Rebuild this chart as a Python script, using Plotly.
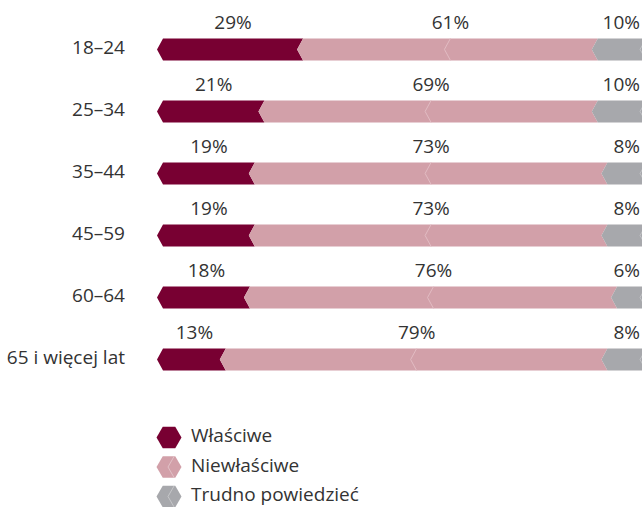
import plotly.graph_objects as go

# ---------------- data ----------------
categories = ["18–24", "25–34", "35–44", "45–59", "60–64", "65 i więcej lat"]
wlasciwe = [29, 21, 19, 19, 18, 13]
niewlasciwe = [61, 69, 73, 73, 76, 79]
trudno = [10, 10, 8, 8, 6, 8]
series_names = ["Właściwe", "Niewłaściwe", "Trudno powiedzieć"]
series_values = [wlasciwe, niewlasciwe, trudno]

# ---------------- style ----------------
colors = ["#780032", "#d2a0a9", "#a7a8ac"]
faint_colors = [None, "#e2bcc3", "#c3c4c7"]
text_color = "#333333"
FONT = "Open Sans"
FS = 19

W, H = 642, 507
X0_PX, PX_PER_UNIT = 157.0, 4.831          # x=0 at pixel 157
Y0_PX, ROW_PX = 49.4, 62.03                # row 0 centre, row spacing
x_min, x_max = -X0_PX / PX_PER_UNIT, (W - X0_PX) / PX_PER_UNIT
y_min, y_max = -Y0_PX / ROW_PX, (H - Y0_PX) / ROW_PX


def px2x(px):
    return (px - X0_PX) / PX_PER_UNIT


def px2y(py):
    return (py - Y0_PX) / ROW_PX


D = 6.0 / PX_PER_UNIT      # chevron depth
HALF = 11.0 / ROW_PX       # half bar height
LABEL_DY = 25.0 / ROW_PX   # value label offset above bar

fig = go.Figure()

rows = list(range(len(categories)))
cum = [0.0] * len(categories)
label_x, label_y, label_t = [], [], []
last_x, last_y, last_t = [], [], []
nseries = len(series_values)
for s, vals in enumerate(series_values):
    xs, ys = [], []
    fx, fy = [], []
    last = s == nseries - 1
    for i, v in enumerate(vals):
        a = cum[i]
        b = a + v
        if not last:
            xs += [a, a + D, b + D, b, b + D, a + D, a, None]
            ys += [i, i - HALF, i - HALF, i, i + HALF, i + HALF, i, None]
        else:
            xe = x_max + 5
            xs += [a, a + D, xe, xe, a + D, a, None]
            ys += [i, i - HALF, i - HALF, i + HALF, i + HALF, i, None]
        # faint decorative chevron
        if s == 1:
            m = (a + b) / 2
            fx += [m + D, m, m + D, None]
            fy += [i - HALF, i, i + HALF, None]
        elif last:
            fx += [b + D, b, b + D, None]
            fy += [i - HALF, i, i + HALF, None]
        if last:
            last_x.append(min((a + b) / 2 + D + 4.4, px2x(640)))
            last_y.append(i - LABEL_DY)
            last_t.append(f"{v}%")
        else:
            label_x.append((a + b) / 2 + D)
            label_y.append(i - LABEL_DY)
            label_t.append(f"{v}%")
        cum[i] = b
    fig.add_trace(go.Scatter(x=xs, y=ys, mode="lines", fill="toself",
                             fillcolor=colors[s], line=dict(width=0, color=colors[s]),
                             hoverinfo="skip", showlegend=False))
    if fx:
        fig.add_trace(go.Scatter(x=fx, y=fy, mode="lines",
                                 line=dict(width=1, color=faint_colors[s]),
                                 hoverinfo="skip", showlegend=False))

# value labels
fig.add_trace(go.Scatter(x=label_x, y=label_y, text=label_t, mode="text",
                         textposition="middle center",
                         textfont=dict(family=FONT, size=FS, color=text_color),
                         hoverinfo="skip", showlegend=False))
fig.add_trace(go.Scatter(x=last_x, y=last_y, text=last_t, mode="text",
                         textposition="middle left",
                         textfont=dict(family=FONT, size=FS, color=text_color),
                         hoverinfo="skip", showlegend=False))

# category labels
fig.add_trace(go.Scatter(x=[px2x(125)] * len(categories), y=rows, text=categories,
                         mode="text", textposition="middle left",
                         textfont=dict(family=FONT, size=FS, color=text_color),
                         hoverinfo="skip", showlegend=False))

# custom legend
leg_y = [px2y(437.5 + 29.5 * k) for k in range(nseries)]
leg_cx = px2x(169)
fig.add_trace(go.Scatter(x=[leg_cx] * nseries, y=leg_y, mode="markers",
                         marker=dict(symbol="hexagon2", size=25, color=colors,
                                     line=dict(width=0)),
                         hoverinfo="skip", showlegend=False))
lfx, lfy = [], []
for k in range(1, nseries):
    c = leg_cx - 1.0 / PX_PER_UNIT
    lfx += [c + D, c, c + D, None]
    lfy += [leg_y[k] - HALF * 0.95, leg_y[k], leg_y[k] + HALF * 0.95, None]
fig.add_trace(go.Scatter(x=lfx, y=lfy, mode="lines",
                         line=dict(width=1, color="rgba(255,255,255,0.35)"),
                         hoverinfo="skip", showlegend=False))
fig.add_trace(go.Scatter(x=[px2x(191)] * nseries, y=leg_y, text=series_names,
                         mode="text", textposition="middle right",
                         textfont=dict(family=FONT, size=FS, color=text_color),
                         hoverinfo="skip", showlegend=False))

fig.update_layout(
    width=W, height=H,
    margin=dict(l=0, r=0, t=0, b=0),
    paper_bgcolor="white", plot_bgcolor="white",
    showlegend=False, hovermode=False,
    xaxis=dict(range=[x_min, x_max], visible=False, fixedrange=True),
    yaxis=dict(range=[y_max, y_min], visible=False, fixedrange=True),
)

fig.write_html("out.html")
